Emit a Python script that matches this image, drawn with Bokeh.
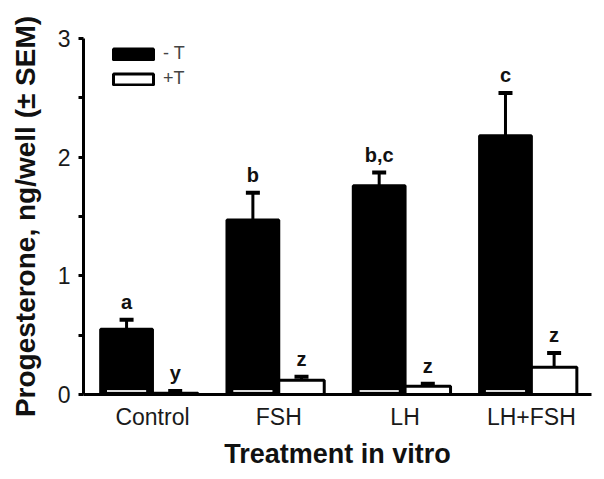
from bokeh.plotting import figure
from bokeh.models import (ColumnDataSource, FixedTicker, Whisker, TeeHead, Legend,
                          LegendItem, Range1d)
from bokeh.core.properties import value
from bokeh.embed import file_html
from bokeh.resources import INLINE

# ---- data ----
categories = ["Control", "FSH", "LH", "LH+FSH"]
minus_t = [0.55, 1.47, 1.76, 2.18]
minus_t_sem = [0.08, 0.23, 0.11, 0.36]
plus_t = [0.01, 0.12, 0.07, 0.23]
plus_t_sem = [0.02, 0.03, 0.02, 0.12]
minus_t_letters = ["a", "b", "b,c", "c"]
plus_t_letters = ["y", "z", "z", "z"]
y_ticks = [0, 1, 2, 3]
y_minor_ticks = [0.5, 1.5, 2.5]

FONT = "Liberation Sans"
W_M = 0.41
W_P = 0.36

pos = [i + 1 for i in range(len(categories))]
src_m = ColumnDataSource(dict(
    x=[p - W_M / 2 for p in pos], top=minus_t, up=[v + e for v, e in zip(minus_t, minus_t_sem)],
    lab=minus_t_letters,
    x0=[p - W_M + 0.05 for p in pos], x1=[p - 0.05 for p in pos],
    base=[0.03] * len(pos)))
src_p = ColumnDataSource(dict(
    x=[p + W_P / 2 for p in pos], top=plus_t, up=[v + e for v, e in zip(plus_t, plus_t_sem)],
    lab=plus_t_letters))

p = figure(width=600, height=475, output_backend="svg", toolbar_location=None,
           x_range=Range1d(0.454, 4.476), y_range=Range1d(0, 3),
           min_border_left=83, min_border_right=9, min_border_top=38, min_border_bottom=81)
p.outline_line_color = None
p.xgrid.visible = False
p.ygrid.visible = False
p.background_fill_color = "white"

r_m = p.vbar(x="x", top="top", bottom=0, width=W_M, source=src_m,
             fill_color="black", line_color="black", line_width=3)
r_p = p.vbar(x="x", top="top", bottom=0, width=W_P, source=src_p,
             fill_color="white", line_color="black", line_width=3)
p.segment(x0="x0", x1="x1", y0="base", y1="base", source=src_m,
          line_color="#dcdcdc", line_width=2)

for src in (src_m, src_p):
    w = Whisker(base="x", lower="top", upper="up", source=src, dimension="height",
                line_color="black", line_width=3, lower_head=None,
                upper_head=TeeHead(size=14, line_width=4, line_color="black"))
    p.add_layout(w)
    p.text(x="x", y="up", text="lab", source=src, text_align="center",
           text_baseline="bottom", y_offset=-7, text_font=value(FONT),
           text_font_size="20px", text_font_style="bold", text_color="#111111")

legend = Legend(items=[LegendItem(label="- T", renderers=[r_m]),
                       LegendItem(label="+T", renderers=[r_p])],
                location=(25, 305), orientation="vertical",
                glyph_width=50, glyph_height=14,
                label_text_font=FONT, label_text_font_size="18px", label_standoff=5,
                spacing=4, padding=0, margin=0,
                border_line_color=None, background_fill_alpha=0)
p.add_layout(legend)

# axes
xa = p.xaxis[0]
xa.ticker = FixedTicker(ticks=pos)
xa.major_label_overrides = {p_: c for p_, c in zip(pos, categories)}
xa.major_tick_line_color = None
xa.minor_tick_line_color = None
xa.axis_line_width = 3
xa.axis_line_color = "black"
xa.major_label_text_font = FONT
xa.major_label_text_font_size = "23px"
xa.major_label_text_color = "#1a1a1a"
xa.major_label_standoff = 3
xa.axis_label = "Treatment in vitro"
xa.axis_label_text_font = FONT
xa.axis_label_text_font_size = "27px"
xa.axis_label_text_font_style = "bold"
xa.axis_label_text_color = "#111111"
xa.axis_label_standoff = 6

ya = p.yaxis[0]
ya.ticker = FixedTicker(ticks=y_ticks, minor_ticks=y_minor_ticks)
ya.axis_line_width = 3
ya.axis_line_color = "black"
ya.major_tick_line_width = 3
ya.minor_tick_line_width = 3
ya.major_tick_in = 0
ya.minor_tick_in = 0
ya.major_tick_out = 5
ya.minor_tick_out = 5
ya.major_label_text_font = FONT
ya.major_label_text_font_size = "23px"
ya.major_label_text_color = "#1a1a1a"
ya.major_label_standoff = 8
ya.axis_label = "Progesterone, ng/well (\u00b1 SEM)"
ya.axis_label_text_font = FONT
ya.axis_label_text_font_size = "28px"
ya.axis_label_text_font_style = "bold"
ya.axis_label_text_color = "#111111"
ya.axis_label_standoff = 14

open("out.html", "w").write(file_html(p, INLINE))
